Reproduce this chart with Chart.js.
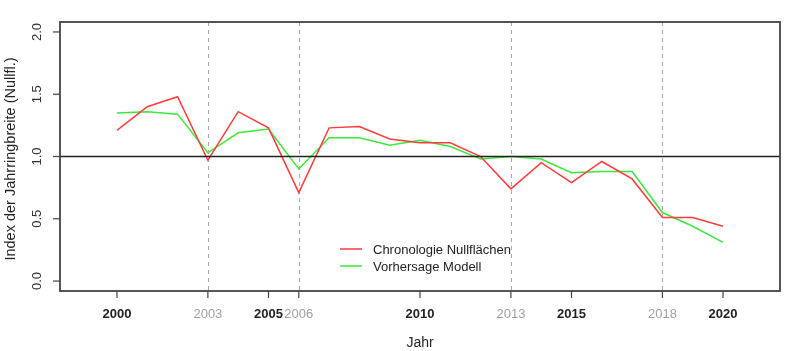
<!DOCTYPE html>
<html>
<head>
<meta charset="utf-8">
<script src="https://cdn.jsdelivr.net/npm/chart.js@4/dist/chart.umd.min.js"></script>
<style>
  html, body { margin: 0; padding: 0; background: #fff; }
  #wrap { width: 800px; height: 351px; }
</style>
</head>
<body>
<div id="wrap"><canvas id="chart" width="800" height="351"></canvas></div>
<script>
const years = [2000, 2001, 2002, 2003, 2004, 2005, 2006, 2007, 2008, 2009, 2010,
               2011, 2012, 2013, 2014, 2015, 2016, 2017, 2018, 2019, 2020];
const chronologie = [1.21, 1.40, 1.48, 0.97, 1.36, 1.23, 0.71, 1.23, 1.24, 1.14, 1.11,
                     1.11, 1.00, 0.74, 0.95, 0.79, 0.96, 0.82, 0.51, 0.51, 0.44];
const vorhersage = [1.35, 1.36, 1.34, 1.03, 1.19, 1.22, 0.90, 1.15, 1.15, 1.09, 1.13,
                    1.08, 0.98, 1.00, 0.98, 0.87, 0.88, 0.88, 0.55, 0.44, 0.31];
const xTicks = [2000, 2003, 2005, 2006, 2010, 2013, 2015, 2018, 2020];
const markedYears = [2003, 2006, 2013, 2018];
const yTicks = [0.0, 0.5, 1.0, 1.5, 2.0];

const FONT = '"Liberation Sans", Arial, sans-serif';

// draw the R-style box, axes, reference lines and legend
const rAxes = {
  id: 'rAxes',
  beforeDatasetsDraw(chart) {
    const { ctx, chartArea: a, scales: { x } } = chart;
    ctx.save();
    // dashed marker years
    ctx.strokeStyle = '#aaaaaa';
    ctx.lineWidth = 1;
    ctx.setLineDash([4, 4]);
    markedYears.forEach(yr => {
      const px = Math.round(x.getPixelForValue(yr)) + 0.5;
      ctx.beginPath();
      ctx.moveTo(px, a.top);
      ctx.lineTo(px, a.bottom);
      ctx.stroke();
    });
    ctx.setLineDash([]);
    ctx.restore();
  },
  afterDatasetsDraw(chart) {
    const { ctx, chartArea: a, scales: { x, y } } = chart;
    ctx.save();
    // line at 1.0
    ctx.strokeStyle = '#222';
    ctx.lineWidth = 1.5;
    const py1 = y.getPixelForValue(1.0);
    ctx.beginPath();
    ctx.moveTo(a.left, py1);
    ctx.lineTo(a.right, py1);
    ctx.stroke();

    // box
    ctx.strokeStyle = '#444';
    ctx.lineWidth = 1.8;
    ctx.strokeRect(a.left, a.top, a.right - a.left, a.bottom - a.top);

    // y ticks
    ctx.lineWidth = 1.2;
    ctx.strokeStyle = '#444';
    ctx.fillStyle = '#333';
    ctx.font = '13px ' + FONT;
    ctx.textAlign = 'center';
    ctx.textBaseline = 'middle';
    yTicks.forEach(v => {
      const py = y.getPixelForValue(v);
      ctx.beginPath();
      ctx.moveTo(a.left, py);
      ctx.lineTo(a.left - 7, py);
      ctx.stroke();
      ctx.save();
      ctx.translate(a.left - 23, py);
      ctx.rotate(-Math.PI / 2);
      ctx.fillText(v.toFixed(1), 0, 0);
      ctx.restore();
    });

    // x ticks
    xTicks.forEach(yr => {
      const px = x.getPixelForValue(yr);
      ctx.beginPath();
      ctx.moveTo(px, a.bottom);
      ctx.lineTo(px, a.bottom + 7);
      ctx.stroke();
      const marked = markedYears.includes(yr);
      ctx.fillStyle = marked ? '#a0a0a0' : '#222';
      ctx.font = (marked ? '' : 'bold ') + '13px ' + FONT;
      ctx.fillText(String(yr), px, a.bottom + 23);
    });

    // axis titles
    ctx.fillStyle = '#222';
    ctx.font = '14px ' + FONT;
    ctx.fillText('Jahr', (a.left + a.right) / 2, 343);
    ctx.save();
    ctx.translate(11, 159);
    ctx.rotate(-Math.PI / 2);
    ctx.font = '14.5px ' + FONT;
    ctx.fillText('Index der Jahrringbreite (Nullfl.)', 0, 0);
    ctx.restore();

    // legend
    const items = chart.data.datasets;
    ctx.textAlign = 'left';
    ctx.font = '13px ' + FONT;
    items.forEach((ds, i) => {
      const ly = 249 + i * 17;
      ctx.strokeStyle = ds.borderColor;
      ctx.lineWidth = 1.5;
      ctx.beginPath();
      ctx.moveTo(340, ly);
      ctx.lineTo(362, ly);
      ctx.stroke();
      ctx.fillStyle = '#222';
      ctx.fillText(ds.label, 373, ly + 1);
    });
    ctx.restore();
  }
};

new Chart(document.getElementById('chart'), {
  type: 'line',
  data: {
    datasets: [
      {
        label: 'Chronologie Nullflächen',
        data: years.map((yr, i) => ({ x: yr, y: chronologie[i] })),
        borderColor: '#ff3b3b',
        borderWidth: 1.5,
        pointRadius: 0,
        tension: 0,
        fill: false
      },
      {
        label: 'Vorhersage Modell',
        data: years.map((yr, i) => ({ x: yr, y: vorhersage[i] })),
        borderColor: '#3be83b',
        borderWidth: 1.5,
        pointRadius: 0,
        tension: 0,
        fill: false
      }
    ]
  },
  options: {
    responsive: false,
    animation: false,
    layout: { padding: { left: 60, right: 20, top: 22, bottom: 60 } },
    plugins: {
      legend: { display: false },
      tooltip: { enabled: false }
    },
    scales: {
      x: { type: 'linear', min: 1998.12, max: 2021.88, display: false },
      y: { type: 'linear', min: -0.08, max: 2.08, display: false }
    }
  },
  plugins: [rAxes]
});
</script>
</body>
</html>
